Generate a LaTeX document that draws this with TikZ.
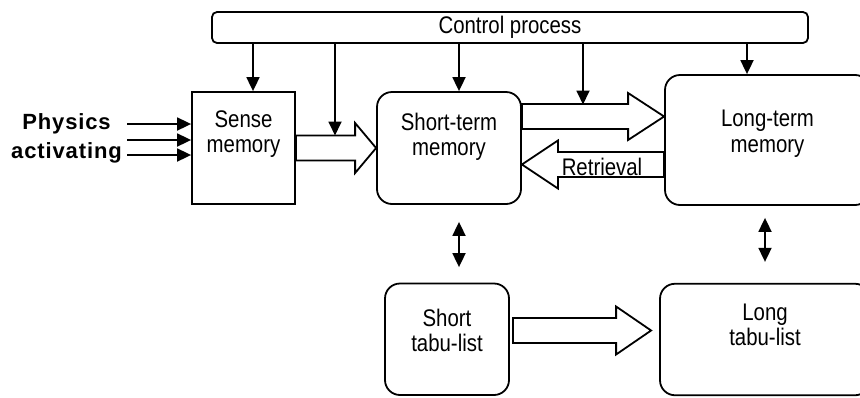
\documentclass[tikz,border=0pt]{standalone}
\usepackage{fontspec}
\setmainfont{Liberation Sans}[FakeStretch=0.85]
\newfontfamily\spacedfont{Liberation Sans}[LetterSpace=4]
\usetikzlibrary{arrows.meta}
\usetikzlibrary{positioning}
\usetikzlibrary{calc}

\tikzset{
  fat/.style 2 args={fill=white, to path={
    let \p1=($(\tikztotarget)!#1!(\tikztostart)$) in
    ($(\tikztostart)!12.5pt!90:(\tikztotarget)$) -- ($(\p1)!12.5pt!90:(\tikztotarget)$)
    -- ($(\p1)!#2!90:(\tikztotarget)$) -- (\tikztotarget)
    -- ($(\p1)!#2!-90:(\tikztotarget)$) -- ($(\p1)!12.5pt!-90:(\tikztotarget)$)
    -- ($(\tikztostart)!12.5pt!-90:(\tikztotarget)$) -- cycle}}
}

\begin{document}
\begin{tikzpicture}[x=1pt,y=-1pt,line width=1.8pt,>={Triangle[length=14pt,width=13pt]},
  sq box/.style={draw,inner sep=0pt},
  round box/.style={draw,rounded corners=15pt,inner sep=0pt},
  txt/.style={font=\fontsize{24}{25.5}\selectfont,align=center,inner sep=0pt}]

  \useasboundingbox (0,0) rectangle (860,397);

  \node[draw,rounded corners=5pt,minimum width=596pt,minimum height=31pt,
    font=\fontsize{24}{25.5}\selectfont] (ctrl) at (510,27.5) {Control process};
  \node[sq box,minimum width=103pt,minimum height=112pt] (sense) at (243.5,148) {};
  \node[round box,minimum width=144pt,minimum height=112pt] (stm) at (449,148) {};
  \node[round box,minimum width=205pt,minimum height=130pt] (ltm) at (767.5,140) {};
  \node[round box,minimum width=124pt,minimum height=111.5pt] (stl) at (447,339.25) {};
  \node[round box,minimum width=210pt,minimum height=111.5pt] (ltl) at (765,339.5) {};

  \node[txt] (sense-t) at ([yshift=-43pt]sense.north) {Sense\\memory};
  \node[txt] (stm-t) at ([yshift=-45.5pt]stm.north) {Short-term\\memory};
  \node[txt] (ltm-t) at ([yshift=-59.5pt]ltm.north) {Long-term\\memory};
  \node[txt] (stl-t) at ([yshift=-48pt]stl.north) {Short\\tabu-list};
  \node[txt] (ltl-t) at ([yshift=-42pt]ltl.north) {Long\\tabu-list};

  \node[font=\spacedfont\bfseries\fontsize{22}{29}\selectfont,align=center,inner sep=0pt]
    (phys) at (66.5,138.5) {Physics\\activating};
  \foreach \dy in {24,8,-7}
    \draw[<-] ([yshift=\dy pt]sense.west) -- ++(-64,0);

  % wide arrows
  \draw[fat={21pt}{25pt}] (sense.east) to (stm.west);
  \coordinate (up-s) at ([yshift=31.5pt]stm.east);
  \coordinate (up-t) at (up-s -| ltm.west);
  \draw[fat={36pt}{23.5pt}] (up-s) to (up-t);
  \coordinate (ret-s) at ([yshift=-24.5pt]ltm.west);
  \coordinate (ret-t) at (ret-s -| stm.east);
  \draw[fat={36pt}{24pt}] (ret-s) to (ret-t);
  \node[txt] (ret-l) at (602,166.5) {Retrieval};
  \coordinate (tb-s) at ([xshift=3pt,yshift=8.75pt]stl.east);
  \coordinate (tb-t) at ([xshift=-8pt]tb-s -| ltl.west);
  \draw[fat={35pt}{24pt}] (tb-s) to (tb-t);

  % control lines
  \coordinate (f1) at (335,135.5);
  \coordinate (f2) at (583,104.5);
  \draw[->] ([xshift=9.5pt]sense.north |- ctrl.south) -- ([xshift=9.5pt]sense.north);
  \draw[->] (f1 |- ctrl.south) -- (f1);
  \draw[->] ([xshift=10pt]stm.north |- ctrl.south) -- ([xshift=10pt]stm.north);
  \draw[->] (f2 |- ctrl.south) -- (f2);
  \draw[->] ([xshift=-20.5pt]ltm.north |- ctrl.south) -- ([xshift=-20.5pt]ltm.north);

  \draw[<->,shorten <=17pt,shorten >=15.5pt] ([xshift=10pt]stm.south) -- ([xshift=10pt]stm.south |- stl.north);
  \draw[<->,shorten <=12pt,shorten >=21pt] ([xshift=-2.5pt]ltm.south) -- ([xshift=-2.5pt]ltm.south |- ltl.north);
\end{tikzpicture}
\end{document}
